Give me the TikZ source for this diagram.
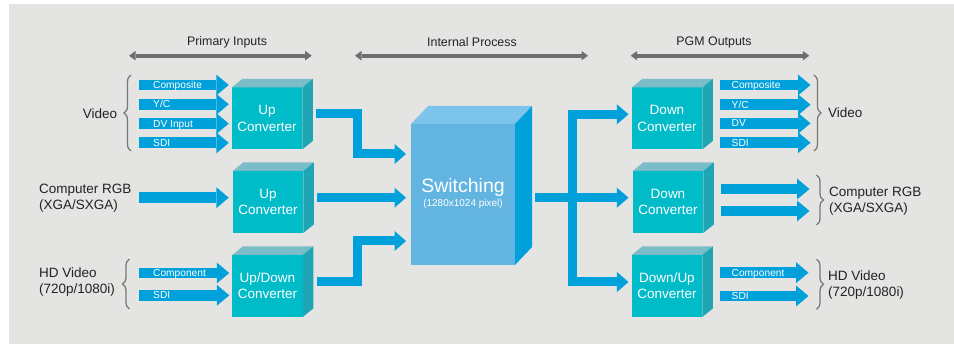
\documentclass[tikz,border=0pt]{standalone}
\usepackage{fontspec}
\setmainfont{Liberation Sans}
\usetikzlibrary{arrows.meta,decorations.pathreplacing}
\definecolor{bgc}{RGB}{228,228,226}
\definecolor{ablue}{RGB}{0,161,218}
\definecolor{tealF}{RGB}{0,187,200}
\definecolor{tealT}{RGB}{122,188,200}
\definecolor{tealS}{RGB}{32,165,181}
\definecolor{swF}{RGB}{99,181,225}
\definecolor{swT}{RGB}{125,196,236}
\definecolor{swS}{RGB}{0,161,218}
\definecolor{hgray}{RGB}{110,110,110}
\definecolor{bgray}{RGB}{120,120,120}
\definecolor{txt}{RGB}{35,35,35}
\newcommand\cubefaces[5]{%
  \fill[#4] (#1.north west) -- ([shift={(#2,#3)}]#1.north west) -- ([shift={(#2,#3)}]#1.north east) -- (#1.north east) -- cycle;
  \fill[#5] (#1.north east) -- ([shift={(#2,#3)}]#1.north east) -- ([shift={(#2,#3)}]#1.south east) -- (#1.south east) -- cycle;}
\begin{document}
\begin{tikzpicture}[x=1pt,y=-1pt,
  tealbox/.style={rectangle, fill=tealF, minimum width=70.5pt, minimum height=62pt, inner sep=0pt, outer sep=0pt, text=white, align=center, font=\fontsize{13.5}{16.3}\selectfont},
  swbox/.style={rectangle, fill=swF, minimum width=104pt, minimum height=141pt, inner sep=0pt, outer sep=0pt},
  inarrow/.style={draw=ablue, line width=10.8pt, -{Triangle[length=12.5pt,width=21pt,line width=0pt]}},
  conn/.style={draw=ablue, line width=9pt, line join=miter, -{Triangle[length=11.5pt,width=20pt,line width=0pt]}},
  conntwo/.style={draw=ablue, line width=9pt, line join=miter, {Triangle[length=11.5pt,width=20pt,line width=0pt]}-{Triangle[length=11.5pt,width=20pt,line width=0pt]}},
  alabel/.style={anchor=base west, inner sep=0pt, text=white, font=\fontsize{10.2}{12}\selectfont},
  lbl/.style={inner sep=0pt, text=txt, align=left, font=\fontsize{13.5}{16.5}\selectfont},
  hdr/.style={inner sep=0pt, text=txt, font=\fontsize{12.4}{14}\selectfont},
  hdrarrow/.style={draw=hgray, line width=3.7pt, {Triangle[length=6.5pt,width=9.5pt,line width=0pt]}-{Triangle[length=6.5pt,width=9.5pt,line width=0pt]}},
  bracestyle/.style={draw=bgray, line width=1.3pt, decorate, decoration={brace, amplitude=7pt}},
]
\useasboundingbox (0,0) rectangle (954,344);
\fill[bgc] (9,4) rectangle (954,344);

% headers
\node[hdr] (hPI) at (227,42) {Primary Inputs};
\node[hdr] (hIP) at (472,42) {Internal Process};
\node[hdr] (hPO) at (714,42) {PGM Outputs};
\coordinate (a1l) at (129,55.7); \coordinate (a1r) at (311.7,55.7);
\coordinate (a2l) at (355,55.7); \coordinate (a2r) at (588,55.7);
\coordinate (a3l) at (630.7,55.7); \coordinate (a3r) at (809.3,55.7);
\draw[hdrarrow] (a1l) -- (a1r);
\draw[hdrarrow] (a2l) -- (a2r);
\draw[hdrarrow] (a3l) -- (a3r);

% converter boxes
\node[tealbox] (U1) at (267,118.5) {Up\\Converter};
\node[tealbox] (U2) at (268,202) {Up\\Converter};
\node[tealbox] (U3) at (267.5,286) {Up/Down\\Converter};
\node[tealbox] (D1) at (667,118.5) {Down\\Converter};
\node[tealbox] (D2) at (668,202) {Down\\Converter};
\node[tealbox] (D3) at (667,286) {Down/Up\\Converter};
\cubefaces{U1}{10.5}{-8.5}{tealT}{tealS}
\cubefaces{U2}{10.5}{-8.5}{tealT}{tealS}
\cubefaces{U3}{10.5}{-8.5}{tealT}{tealS}
\cubefaces{D1}{10.5}{-8.5}{tealT}{tealS}
\cubefaces{D2}{10.5}{-8.5}{tealT}{tealS}
\cubefaces{D3}{10.5}{-8.5}{tealT}{tealS}

% switching box
\node[swbox] (SW) at (463,194.5) {};
\cubefaces{SW}{17}{-18}{swT}{swS}
\node[anchor=base, inner sep=0pt, text=white, font=\fontsize{19.5}{20}\selectfont] (swt1) at (463,193) {Switching};
\node[anchor=base, inner sep=0pt, text=white, font=\fontsize{10}{12}\selectfont] (swt2) at (463,206.3) {(1280x1024 pixel)};

% input arrows
\coordinate (vi1) at (139,85);
\coordinate (vi2) at (139,104.3);
\coordinate (vi3) at (139,123.6);
\coordinate (vi4) at (139,142.9);
\coordinate (ri) at (139,197.7);
\coordinate (hi1) at (139,273);
\coordinate (hi2) at (139,295.3);
\draw[inarrow, shorten >=3pt] (vi1) -- (vi1 -| U1.west);
\draw[inarrow, shorten >=3pt] (vi2) -- (vi2 -| U1.west);
\draw[inarrow, shorten >=3pt] (vi3) -- (vi3 -| U1.west);
\draw[inarrow, shorten >=3pt] (vi4) -- (vi4 -| U1.west);
\draw[inarrow, shorten >=4pt] (ri) -- (ri -| U2.west);
\draw[inarrow, shorten >=3pt] (hi1) -- (hi1 -| U3.west);
\draw[inarrow, shorten >=3pt] (hi2) -- (hi2 -| U3.west);
\node[alabel] (lvi1) at ([shift={(14,3.65)}]vi1) {Composite};
\node[alabel] (lvi2) at ([shift={(14,3.65)}]vi2) {Y/C};
\node[alabel] (lvi3) at ([shift={(14,3.65)}]vi3) {DV Input};
\node[alabel] (lvi4) at ([shift={(14,3.65)}]vi4) {SDI};
\node[alabel] (lhi1) at ([shift={(14,3.65)}]hi1) {Component};
\node[alabel] (lhi2) at ([shift={(14,3.65)}]hi2) {SDI};

% output arrows
\coordinate (vo1) at (810.5,85);
\coordinate (vo2) at (810.5,104.7);
\coordinate (vo3) at (810.5,123.3);
\coordinate (vo4) at (810.5,142.7);
\coordinate (ro1) at (809.5,189);
\coordinate (ro2) at (809.5,211);
\coordinate (ho1) at (808.5,272.7);
\coordinate (ho2) at (808.5,296);
\draw[inarrow, shorten <=18pt] (vo1 -| D1.east) -- (vo1);
\draw[inarrow, shorten <=18pt] (vo2 -| D1.east) -- (vo2);
\draw[inarrow, shorten <=18pt] (vo3 -| D1.east) -- (vo3);
\draw[inarrow, shorten <=18pt] (vo4 -| D1.east) -- (vo4);
\draw[inarrow, shorten <=18pt] (ro1 -| D2.east) -- (ro1);
\draw[inarrow, shorten <=18pt] (ro2 -| D2.east) -- (ro2);
\draw[inarrow, shorten <=18pt] (ho1 -| D3.east) -- (ho1);
\draw[inarrow, shorten <=18pt] (ho2 -| D3.east) -- (ho2);
\node[alabel] (lvo1) at (731.5,88.65) {Composite};
\node[alabel] (lvo2) at (731.5,108.35) {Y/C};
\node[alabel] (lvo3) at (731.5,126.95) {DV};
\node[alabel] (lvo4) at (731.5,146.35) {SDI};
\node[alabel] (lho1) at (731.5,276.35) {Component};
\node[alabel] (lho2) at (731.5,299.65) {SDI};

% connectors into switching
\coordinate (j1) at (357,154);
\coordinate (j3) at (357,241);
\coordinate (c1s) at ([shift={(14,-5.2)}]U1.east);
\coordinate (c2s) at ([shift={(14,-4.3)}]U2.east);
\coordinate (c3s) at ([shift={(14,-4.3)}]U3.east);
\draw[conn, shorten >=5pt] (c1s) -| (j1) -- (j1 -| SW.west);
\draw[conn, shorten >=5pt] (c2s) -- (c2s -| SW.west);
\draw[conn, shorten >=5pt] (c3s) -| (j3) -- (j3 -| SW.west);

% connectors out of switching
\coordinate (c4s) at ([shift={(20,3.2)}]SW.east);
\coordinate (jt) at (572,114.3);
\coordinate (jb) at (572,282);
\draw[conn, shorten >=4.3pt] (c4s) -- (c4s -| D2.west);
\draw[conntwo, shorten <=3.3pt, shorten >=3.3pt] (jt -| D1.west) -- (jt) -- (jb) -- (jb -| D3.west);

% braces
\draw[bracestyle] (131,151) -- (131,75);
\draw[bracestyle] (129.5,309) -- (129.5,259);
\draw[bracestyle] (814,75) -- (814,151);
\draw[bracestyle] (816.5,175) -- (816.5,225);
\draw[bracestyle] (816.5,259.3) -- (816.5,309.3);

% side labels
\node[lbl] (vidL) at (100,114) {Video};
\node[lbl, anchor=west] (rgbL) at (39,198.3) {Computer RGB\\(XGA/SXGA)};
\node[lbl, anchor=west] (hdL) at (39,282) {HD Video\\(720p/1080i)};
\node[lbl, anchor=west] (vidR) at (828,113) {Video};
\node[lbl, anchor=west] (rgbR) at (829,201) {Computer RGB\\(XGA/SXGA)};
\node[lbl, anchor=west] (hdR) at (828,285) {HD Video\\(720p/1080i)};
\end{tikzpicture}
\end{document}
